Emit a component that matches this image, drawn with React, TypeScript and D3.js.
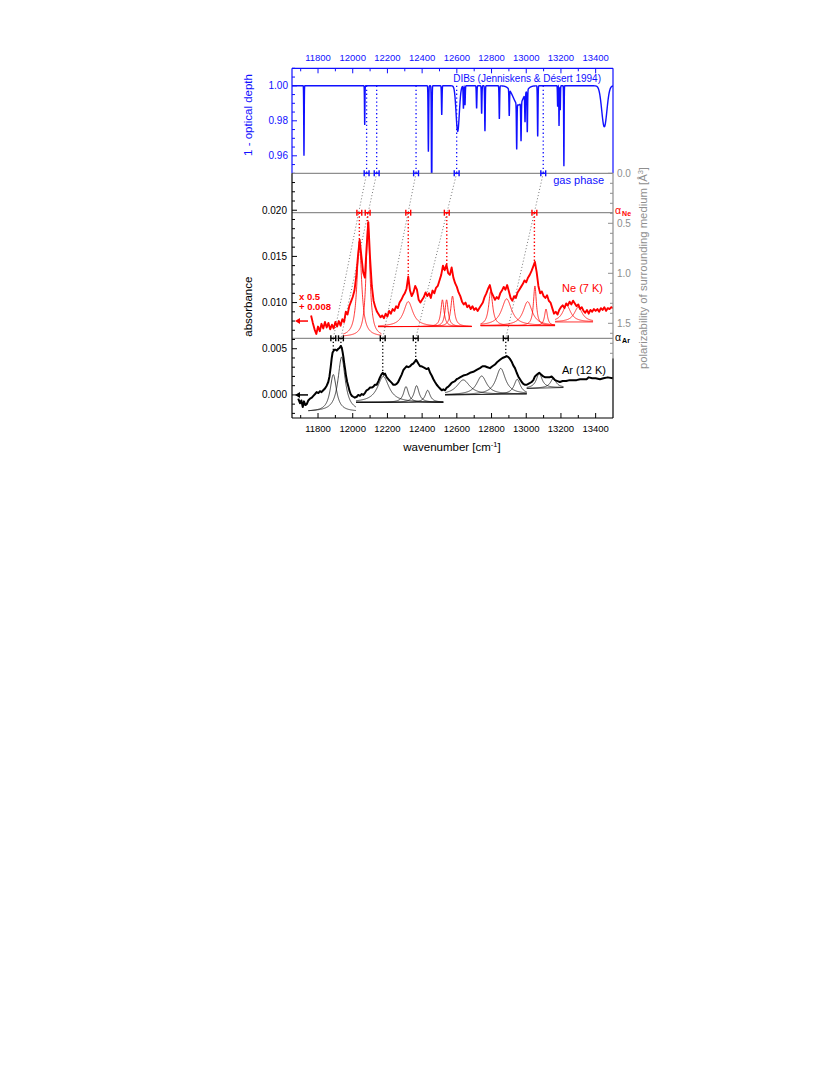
import React from "react";
import * as d3 from "d3";

// ---------------- DATA ----------------
// x axis (wavenumber, cm^-1)
const xDomain = [11650, 13500];
const xMajorTicks = [11800, 12000, 12200, 12400, 12600, 12800, 13000, 13200, 13400];
const xMinorTicks = [11700, 11900, 12100, 12300, 12500, 12700, 12900, 13100, 13300, 13500];

// top panel: DIB line list (Jenniskens & Désert 1994): centre, depth, FWHM (cm^-1)
const dibCenter = [11719, 12069, 12436, 12455, 12513, 12605, 12638, 12647, 12714, 12743, 12762, 12845, 12902, 12955, 12945, 12970, 12993, 13006, 13066, 13181, 13189, 13196, 13217, 13450];
const dibDepth = [0.040, 0.0224, 0.0377, 0.065, 0.0167, 0.026, 0.013, 0.011, 0.013, 0.016, 0.026, 0.019, 0.015, 0.011, 0.026, 0.022, 0.016, 0.024, 0.029, 0.012, 0.023, 0.014, 0.046, 0.0234];
const dibFwhm = [3, 3, 4, 4, 4, 22, 4, 4, 4, 4, 4, 4, 4, 70, 4, 4, 4, 4, 4, 3, 3, 3, 3, 35];
const dibTicks = [0.96, 0.98, 1.0];

// band positions (cm^-1)
const gasPhasePos = [12080, 12138, 12365, 12599, 13098];
const neonPos = [12038, 12086, 12320, 12542, 13047];
const argonPos = [11888, 11932, 12173, 12363, 12882];
const markerHalfWidth = 14;
// polarizability levels (Å^3)
const alphaGas = 0;
const alphaNe = 0.394;
const alphaAr = 1.65;
const alphaAxisMax = 1.85;
const alphaLabels = [0, 0.5, 1.0, 1.5];

// Ne (7 K) spectrum, x 0.5 + 0.008, sampled every 10 cm^-1 from 11760
const neStart = 11760;
const neStep = 10;
const neAbs = [
  0.0086, 0.0078, 0.0071, 0.0066, 0.0074, 0.0069, 0.0077, 0.0072, 0.0079, 0.0073,
  0.0078, 0.0071, 0.0076, 0.0072, 0.0079, 0.0074, 0.0080, 0.0075, 0.0082, 0.0079,
  0.0090, 0.0087, 0.0096, 0.0101, 0.0106, 0.0113, 0.0128, 0.0150, 0.0168, 0.0150,
  0.0133, 0.0127, 0.0160, 0.0187, 0.0148, 0.0118, 0.0102, 0.0095, 0.0090, 0.0087,
  0.0084, 0.0086, 0.0083, 0.0088, 0.0085, 0.0091, 0.0088, 0.0093, 0.0091, 0.0096,
  0.0094, 0.0100, 0.0103, 0.0107, 0.0110, 0.0115, 0.0128, 0.0113, 0.0107, 0.0111,
  0.0118, 0.0114, 0.0103, 0.0100, 0.0103, 0.0106, 0.0111, 0.0107, 0.0110, 0.0105,
  0.0113, 0.0110, 0.0116, 0.0118, 0.0124, 0.0130, 0.0140, 0.0135, 0.0141, 0.0132,
  0.0130, 0.0138, 0.0127, 0.0121, 0.0117, 0.0111, 0.0107, 0.0101, 0.0098, 0.0100,
  0.0095, 0.0097, 0.0093, 0.0096, 0.0092, 0.0094, 0.0091, 0.0094, 0.0097, 0.0100,
  0.0106, 0.0110, 0.0115, 0.0119, 0.0111, 0.0107, 0.0103, 0.0106, 0.0104, 0.0110,
  0.0113, 0.0117, 0.0114, 0.0119, 0.0112, 0.0105, 0.0102, 0.0107, 0.0105, 0.0111,
  0.0114, 0.0117, 0.0120, 0.0124, 0.0122, 0.0127, 0.0130, 0.0134, 0.0139, 0.0144,
  0.0133, 0.0118, 0.0110, 0.0112, 0.0107, 0.0105, 0.0108, 0.0102, 0.0100, 0.0094,
  0.0088, 0.0090, 0.0087, 0.0092, 0.0095, 0.0097, 0.0094, 0.0099, 0.0097, 0.0101,
  0.0098, 0.0102, 0.0099, 0.0096, 0.0098, 0.0093, 0.0095, 0.0091, 0.0089, 0.0092,
  0.0088, 0.0092, 0.0090, 0.0093, 0.0091, 0.0093, 0.0090, 0.0094, 0.0092, 0.0095,
  0.0091, 0.0094, 0.0093, 0.0095, 0.0094,
];

// Ar (12 K) spectrum [wavenumber, absorbance]
const arSpectrum: [number, number][] = [
  [11686, -0.0004], [11696, -0.0009], [11704, -0.0006], [11712, -0.0013], [11719, -0.0007],
  [11727, -0.0011], [11735, -0.0010], [11744, -0.0006], [11754, -0.0004], [11764, -0.0003],
  [11773, -0.0001], [11783, 0.0001], [11792, 0.0003], [11802, 0.0002], [11811, 0.0004],
  [11820, 0.0003], [11830, 0.0005], [11840, 0.0007], [11850, 0.0010], [11859, 0.0014],
  [11866, 0.0020], [11873, 0.0030], [11879, 0.0040], [11884, 0.0046], [11894, 0.0049],
  [11902, 0.0049], [11908, 0.0048], [11917, 0.0050], [11925, 0.0051], [11931, 0.0053],
  [11937, 0.0051], [11942, 0.0046], [11947, 0.0040], [11951, 0.0034], [11956, 0.0028],
  [11961, 0.0021], [11968, 0.0014], [11975, 0.0009], [11982, 0.0004], [11988, 0.0001],
  [11995, -0.0001], [12003, -0.0002], [12012, -0.0003], [12023, -0.0002], [12032, 0.0000],
  [12042, -0.0001], [12052, 0.0001], [12061, 0.0000], [12070, 0.0002], [12080, 0.0005],
  [12090, 0.0006], [12100, 0.0008], [12110, 0.0008], [12119, 0.0009], [12128, 0.0011],
  [12138, 0.0011], [12148, 0.0015], [12157, 0.0019], [12165, 0.0022], [12173, 0.0024],
  [12180, 0.0022], [12186, 0.0023], [12196, 0.0019], [12205, 0.0017], [12215, 0.0015],
  [12225, 0.0013], [12234, 0.0011], [12243, 0.0011], [12253, 0.0012], [12262, 0.0014],
  [12272, 0.0018], [12282, 0.0022], [12292, 0.0027], [12301, 0.0029], [12311, 0.0031],
  [12320, 0.0030], [12330, 0.0031], [12340, 0.0033], [12349, 0.0034], [12358, 0.0036],
  [12365, 0.0038], [12372, 0.0036], [12378, 0.0034], [12388, 0.0031], [12397, 0.0031],
  [12406, 0.0030], [12416, 0.0029], [12426, 0.0028], [12436, 0.0029], [12446, 0.0024],
  [12455, 0.0021], [12465, 0.0017], [12474, 0.0014], [12484, 0.0011], [12493, 0.0009],
  [12503, 0.0007], [12513, 0.0005], [12522, 0.0006], [12532, 0.0005], [12542, 0.0008],
  [12551, 0.0009], [12561, 0.0011], [12570, 0.0013], [12580, 0.0014], [12589, 0.0015],
  [12599, 0.0017], [12609, 0.0018], [12618, 0.0019], [12637, 0.0021], [12657, 0.0022],
  [12676, 0.0024], [12695, 0.0025], [12714, 0.0027], [12733, 0.0029], [12748, 0.0031],
  [12762, 0.0031], [12776, 0.0030], [12791, 0.0029], [12805, 0.0031], [12820, 0.0033],
  [12835, 0.0036], [12849, 0.0038], [12863, 0.0040], [12877, 0.0041], [12887, 0.0042],
  [12897, 0.0041], [12906, 0.0039], [12916, 0.0036], [12925, 0.0032], [12935, 0.0029],
  [12945, 0.0024], [12954, 0.0020], [12964, 0.0017], [12974, 0.0014], [12983, 0.0012],
  [12993, 0.0011], [13003, 0.0011], [13012, 0.0012], [13022, 0.0013], [13031, 0.0014],
  [13041, 0.0016], [13050, 0.0020], [13062, 0.0022], [13075, 0.0024], [13086, 0.0022],
  [13098, 0.0020], [13110, 0.0019], [13122, 0.0019], [13134, 0.0019], [13146, 0.0020],
  [13156, 0.0018], [13166, 0.0016], [13180, 0.0015], [13194, 0.0014], [13210, 0.0015],
  [13230, 0.0015], [13250, 0.0016], [13271, 0.0016], [13290, 0.0016], [13310, 0.0017],
  [13330, 0.0017], [13348, 0.0017], [13360, 0.0019], [13380, 0.0018], [13400, 0.0018],
  [13425, 0.0017], [13445, 0.0018], [13470, 0.0019], [13498, 0.0018],
];

// Lorentzian fit groups: range, linear baseline (left/right), whether the baseline is drawn
const neGroupFrom = [11945, 12146, 12737, 13166];
const neGroupTo = [12165, 12686, 13166, 13385];
const neGroupBaseL = [0.0063, 0.0074, 0.0075, 0.0079];
const neGroupBaseR = [0.0063, 0.0074, 0.0075, 0.0079];
const neGroupShowBase = [false, true, true, true];
// Ne fit components: centre, amplitude, half width, group
const neFitCenter = [12038, 12088, 12320, 12517, 12541, 12575, 12795, 12887, 13008, 13050, 13114, 13233, 13300];
const neFitAmp = [0.0103, 0.0124, 0.0027, 0.0029, 0.0029, 0.0033, 0.0037, 0.0029, 0.0026, 0.0043, 0.0018, 0.0018, 0.0016];
const neFitHwhm = [16, 13, 32, 11, 11, 12, 14, 35, 32, 10, 10, 28, 28];
const neFitGroup = [0, 0, 1, 1, 1, 1, 2, 2, 2, 2, 2, 3, 3];

const arGroupFrom = [11744, 12019, 12532, 13003];
const arGroupTo = [12019, 12522, 13003, 13214];
const arGroupBaseL = [-0.0018, -0.0008, 0.0000, 0.0007];
const arGroupBaseR = [-0.0018, -0.0008, 0.0001, 0.0008];
const arGroupShowBase = [false, true, true, true];
const arFitCenter = [11888, 11936, 12176, 12307, 12368, 12432, 12637, 12743, 12853, 12948, 13075, 13156];
const arFitAmp = [0.0040, 0.0059, 0.0028, 0.0017, 0.0018, 0.0013, 0.0016, 0.0020, 0.0028, 0.0016, 0.0016, 0.0010];
const arFitHwhm = [22, 25, 40, 17, 17, 17, 45, 35, 33, 22, 20, 20];
const arFitGroup = [0, 0, 1, 1, 1, 1, 2, 2, 2, 2, 3, 3];

// absorbance axis
const absDomain = [-0.0025, 0.024];
const neOffset = 0.008;
const arOffset = 0.0;

// ---------------- LAYOUT ----------------
const FONT = "'Liberation Sans', Arial, Helvetica, sans-serif";
const L = 292, R = 613;
const TOP = 68.3, SPLIT = 173.3, BOT = 418;
const BLUE = "#1010ff", RED = "#ff0000", GRAY = "#8e8e8e";

const x = d3.scaleLinear().domain(xDomain).range([L, R]);
const yDib = d3.scaleLinear().domain([0.95, 1.01]).range([SPLIT, TOP]);
const yAbs = d3.scaleLinear().domain(absDomain).range([BOT, SPLIT]);
const yPol = d3.scaleLinear().domain([0, 1]).range([SPLIT, SPLIT + 100]);

function interp(points: [number, number][], wn: number) {
  const i = d3.bisector((d: [number, number]) => d[0]).left(points, wn);
  if (i <= 0) return points[0][1];
  if (i >= points.length) return points[points.length - 1][1];
  const [x0, y0] = points[i - 1];
  const [x1, y1] = points[i];
  return y0 + ((wn - x0) / (x1 - x0)) * (y1 - y0);
}

export default function App() {
  // DIB profile
  const dibPts: [number, number][] = d3.range(xDomain[0], xDomain[1] + 0.25, 0.5).map((w) => {
    let v = 1;
    dibCenter.forEach((c, i) => {
      const s = dibFwhm[i];
      v -= dibDepth[i] * Math.exp((-4 * Math.LN2 * (w - c) * (w - c)) / (s * s));
    });
    return [w, v];
  });
  const dibPath = d3.line<[number, number]>().x((d) => x(d[0])).y((d) => yDib(d[1]))(dibPts) || "";

  const nePts: [number, number][] = neAbs.map((v, i) => [neStart + i * neStep, v]);
  const absLine = d3.line<[number, number]>().x((d) => x(d[0])).y((d) => yAbs(d[1]));
  const nePath = absLine(nePts) || "";
  const arPath = absLine(arSpectrum) || "";

  function fitPaths(center: number[], amp: number[], hw: number[], grp: number[], from: number[], to: number[], bl: number[], br: number[]) {
    return center.map((c, i) => {
      const g = grp[i];
      const pts: [number, number][] = d3.range(from[g], to[g] + 0.5, 1).map((w) => {
        const base = bl[g] + ((w - from[g]) / (to[g] - from[g])) * (br[g] - bl[g]);
        const t = (w - c) / hw[i];
        return [w, base + amp[i] / (1 + t * t)];
      });
      return absLine(pts) || "";
    });
  }
  const neFits = fitPaths(neFitCenter, neFitAmp, neFitHwhm, neFitGroup, neGroupFrom, neGroupTo, neGroupBaseL, neGroupBaseR);
  const arFits = fitPaths(arFitCenter, arFitAmp, arFitHwhm, arFitGroup, arGroupFrom, arGroupTo, arGroupBaseL, arGroupBaseR);

  const yGas = yPol(alphaGas), yNe = yPol(alphaNe), yAr = yPol(alphaAr);

  const marker = (wn: number, y: number, color: string, key: string) => (
    <g key={key} stroke={color} strokeWidth={1.4} fill="none">
      <line x1={x(wn - markerHalfWidth)} x2={x(wn + markerHalfWidth)} y1={y} y2={y} />
      <line x1={x(wn - markerHalfWidth)} x2={x(wn - markerHalfWidth)} y1={y - 3} y2={y + 3} />
      <line x1={x(wn + markerHalfWidth)} x2={x(wn + markerHalfWidth)} y1={y - 3} y2={y + 3} />
    </g>
  );

  const absTicks = d3.range(-2, 24);
  const dibTickIdx = d3.range(190, 203);
  const polTicks = d3.range(0, 19);

  const neInterp = (wn: number) => interp(nePts, wn);
  const arInterp = (wn: number) => interp(arSpectrum, wn);

  return (
    <svg width={830} height={1075} style={{ position: "absolute", left: 0, top: 0 }} fontFamily={FONT}>
      <rect x={0} y={0} width={830} height={1075} fill="#fff" />
      <defs>
        <clipPath id="clipTop">
          <rect x={L} y={TOP} width={R - L} height={SPLIT - TOP} />
        </clipPath>
        <clipPath id="clipMain">
          <rect x={L} y={SPLIT} width={R - L} height={BOT - SPLIT} />
        </clipPath>
      </defs>

      {/* ---------- top DIB panel ---------- */}
      <path d={dibPath} fill="none" stroke={BLUE} strokeWidth={1.4} clipPath="url(#clipTop)" />
      {gasPhasePos.map((wn, i) => (
        <line key={"bd" + i} x1={x(wn)} x2={x(wn)} y1={yDib(1.0)} y2={yGas} stroke={BLUE} strokeWidth={1.3} strokeDasharray="1.3,2.6" />
      ))}
      <line x1={L} x2={R} y1={TOP} y2={TOP} stroke={BLUE} strokeWidth={1.2} />
      <line x1={L} x2={L} y1={TOP} y2={SPLIT} stroke={BLUE} strokeWidth={1.2} />
      <line x1={R} x2={R} y1={TOP} y2={SPLIT} stroke={BLUE} strokeWidth={1.2} />
      {xMajorTicks.map((t) => (
        <g key={"tt" + t}>
          <line x1={x(t)} x2={x(t)} y1={TOP} y2={TOP + 5} stroke={BLUE} strokeWidth={1} />
          <text x={x(t)} y={61} textAnchor="middle" fontSize={9.5} fill={BLUE}>{t}</text>
        </g>
      ))}
      {xMinorTicks.filter((t) => t < xDomain[1]).map((t) => (
        <line key={"tm" + t} x1={x(t)} x2={x(t)} y1={TOP} y2={TOP + 3} stroke={BLUE} strokeWidth={1} />
      ))}
      {dibTickIdx.map((i) => {
        const v = i * 0.005;
        const major = dibTicks.some((t) => Math.abs(t - v) < 1e-6);
        return (
          <g key={"dt" + i}>
            <line x1={L} x2={L + (major ? 5 : 3)} y1={yDib(v)} y2={yDib(v)} stroke={BLUE} strokeWidth={1} />
            {major && (
              <text x={288} y={yDib(v) + 3.5} textAnchor="end" fontSize={10} fill={BLUE}>{v.toFixed(2)}</text>
            )}
          </g>
        );
      })}
      <text transform={`translate(252,115) rotate(-90)`} textAnchor="middle" fontSize={11.5} fill={BLUE}>1 - optical depth</text>
      <text x={601} y={82} textAnchor="end" fontSize={10} fill={BLUE}>DIBs (Jenniskens &amp; Désert 1994)</text>

      {/* ---------- main panel ---------- */}
      {[yGas, yNe, yAr].map((yy, i) => (
        <line key={"pl" + i} x1={L} x2={R} y1={yy} y2={yy} stroke={GRAY} strokeWidth={1.3} />
      ))}

      {gasPhasePos.map((wn, i) => (
        <line key={"gd" + i} x1={x(wn)} y1={yGas} x2={x(argonPos[i])} y2={yAr} stroke="#777" strokeWidth={1} strokeDasharray="1,2.2" />
      ))}

      <g clipPath="url(#clipMain)">
        {neFits.map((p, i) => (
          <path key={"nf" + i} d={p} fill="none" stroke={RED} strokeWidth={0.8} />
        ))}
        {neGroupFrom.map((f, g) =>
          neGroupShowBase[g] ? (
            <line key={"nb" + g} x1={x(f)} x2={x(neGroupTo[g])} y1={yAbs(neGroupBaseL[g])} y2={yAbs(neGroupBaseR[g])} stroke={RED} strokeWidth={0.8} />
          ) : null
        )}
        {arFits.map((p, i) => (
          <path key={"af" + i} d={p} fill="none" stroke="#000" strokeWidth={0.7} />
        ))}
        {arGroupFrom.map((f, g) =>
          arGroupShowBase[g] ? (
            <line key={"ab" + g} x1={x(f)} x2={x(arGroupTo[g])} y1={yAbs(arGroupBaseL[g])} y2={yAbs(arGroupBaseR[g])} stroke="#000" strokeWidth={0.7} />
          ) : null
        )}
        <path d={nePath} fill="none" stroke={RED} strokeWidth={1.9} strokeLinejoin="round" />
        <path d={arPath} fill="none" stroke="#000" strokeWidth={2} strokeLinejoin="round" />
      </g>

      {neonPos.map((wn, i) => (
        <line key={"rd" + i} x1={x(wn)} x2={x(wn)} y1={yNe} y2={yAbs(neInterp(wn))} stroke={RED} strokeWidth={1.4} strokeDasharray="1.4,2.2" />
      ))}
      {argonPos.map((wn, i) => (
        <line key={"kd" + i} x1={x(wn)} x2={x(wn)} y1={yAr} y2={yAbs(arInterp(wn))} stroke="#000" strokeWidth={1.3} strokeDasharray="1.3,2.2" />
      ))}

      {gasPhasePos.map((wn, i) => marker(wn, yGas, BLUE, "gm" + i))}
      {neonPos.map((wn, i) => marker(wn, yNe, RED, "nm" + i))}
      {argonPos.map((wn, i) => marker(wn, yAr, "#000", "am" + i))}

      {/* frame */}
      <line x1={L} x2={L} y1={SPLIT} y2={BOT} stroke="#000" strokeWidth={1.2} />
      <line x1={L} x2={R} y1={BOT} y2={BOT} stroke="#000" strokeWidth={1.2} />
      <line x1={R} x2={R} y1={yPol(alphaAxisMax)} y2={BOT} stroke="#000" strokeWidth={1.2} />
      <line x1={R} x2={R} y1={SPLIT} y2={yPol(alphaAxisMax)} stroke={GRAY} strokeWidth={1.2} />

      {/* bottom axis */}
      {xMajorTicks.map((t) => (
        <g key={"bt" + t}>
          <line x1={x(t)} x2={x(t)} y1={BOT} y2={BOT - 5} stroke="#000" strokeWidth={1} />
          <text x={x(t)} y={432} textAnchor="middle" fontSize={9.5} fill="#000">{t}</text>
        </g>
      ))}
      {xMinorTicks.filter((t) => t < xDomain[1]).map((t) => (
        <line key={"bm" + t} x1={x(t)} x2={x(t)} y1={BOT} y2={BOT - 3} stroke="#000" strokeWidth={1} />
      ))}
      <text x={452} y={451} textAnchor="middle" fontSize={11.5} fill="#000">
        wavenumber [cm<tspan dy={-4} fontSize={7.5}>-1</tspan><tspan dy={4}>]</tspan>
      </text>

      {/* left absorbance axis */}
      {absTicks.map((i) => {
        const v = i / 1000;
        const major = i % 5 === 0;
        return (
          <g key={"la" + i}>
            <line x1={L} x2={L + (major ? 5 : 3)} y1={yAbs(v)} y2={yAbs(v)} stroke="#000" strokeWidth={1} />
            {major && (
              <text x={287} y={yAbs(v) + 3.5} textAnchor="end" fontSize={10} fill="#000">{v.toFixed(3)}</text>
            )}
          </g>
        );
      })}
      <text transform={`translate(252,306.7) rotate(-90)`} textAnchor="middle" fontSize={11.5} fill="#000">absorbance</text>

      {/* right polarizability axis */}
      {polTicks.map((i) => {
        const a = i / 10;
        const major = i % 5 === 0;
        return (
          <line key={"rp" + i} x1={R} x2={R - (major ? 5 : 3)} y1={yPol(a)} y2={yPol(a)} stroke={GRAY} strokeWidth={1} />
        );
      })}
      {alphaLabels.map((a) => (
        <text key={"rl" + a} x={617} y={yPol(a) + 4} fontSize={10} fill={GRAY}>{a.toFixed(1)}</text>
      ))}
      <text transform={`translate(647,167) rotate(-90)`} textAnchor="end" fontSize={11.3} fill={GRAY}>
        polarizability of surrounding medium [Å<tspan dy={-4} fontSize={7.5}>3</tspan><tspan dy={4}>]</tspan>
      </text>
      <text x={615} y={yNe + 1.5} fontSize={10.5} fill={RED}>α<tspan dx={1} dy={1.5} fontSize={7} fontWeight="bold">Ne</tspan></text>
      <text x={615} y={yAr + 2.5} fontSize={10.5} fill="#000">α<tspan dx={1} dy={2} fontSize={7} fontWeight="bold">Ar</tspan></text>

      {/* labels */}
      <text x={604} y={184} textAnchor="end" fontSize={11} fill={BLUE}>gas phase</text>
      <text x={603} y={292} textAnchor="end" fontSize={11} fill={RED}>Ne (7 K)</text>
      <text x={606} y={374} textAnchor="end" fontSize={11} fill="#000">Ar (12 K)</text>
      <text x={299} y={300} fontSize={9.5} fontWeight="bold" fill={RED}>x 0.5</text>
      <text x={299} y={309.5} fontSize={9.5} fontWeight="bold" fill={RED}>+ 0.008</text>

      {/* offset arrows */}
      <g>
        <line x1={299} x2={308} y1={yAbs(neOffset)} y2={yAbs(neOffset)} stroke={RED} strokeWidth={1.5} />
        <path d={`M${295},${yAbs(neOffset)} L${300},${yAbs(neOffset) - 3} L${300},${yAbs(neOffset) + 3} Z`} fill={RED} />
        <line x1={299} x2={308} y1={yAbs(arOffset)} y2={yAbs(arOffset)} stroke="#000" strokeWidth={1.5} />
        <path d={`M${295},${yAbs(arOffset)} L${300},${yAbs(arOffset) - 3} L${300},${yAbs(arOffset) + 3} Z`} fill="#000" />
      </g>
    </svg>
  );
}
